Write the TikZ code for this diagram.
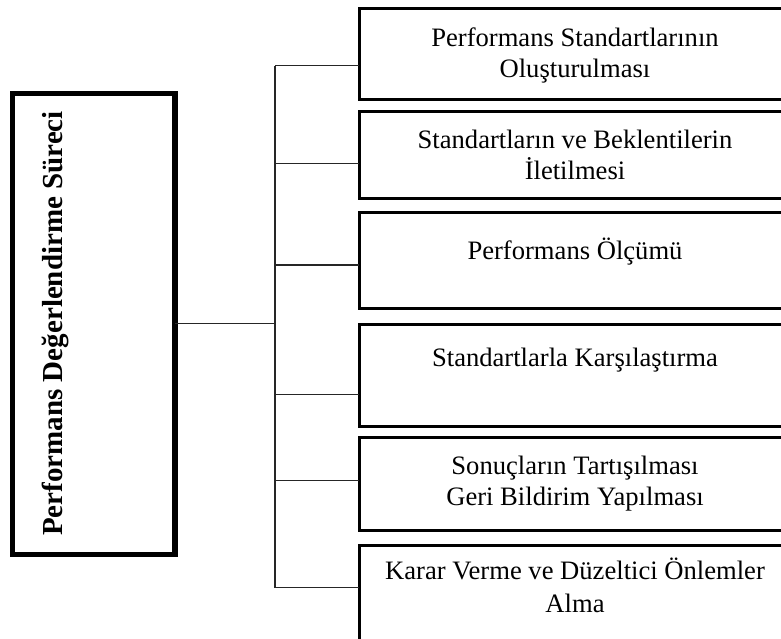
\documentclass[tikz,border=0pt]{standalone}
\usepackage{fontspec}
\setmainfont{Liberation Serif}
\begin{document}
\begin{tikzpicture}[x=1pt,y=-1pt,
  stagebox/.style={draw=black, line width=3pt, fill=white, inner sep=0pt,
    outer sep=0pt, anchor=north west, minimum width=460pt},
  mainbox/.style={draw=black, line width=5.3pt, fill=white, inner sep=0pt,
    outer sep=0pt, anchor=north west, minimum width=162.5pt, minimum height=461pt},
  steptext/.style={anchor=base, inner sep=0pt, font=\fontsize{26.6}{31}\selectfont},
  titletext/.style={anchor=base, inner sep=0pt, rotate=90,
    font=\fontsize{29}{33}\selectfont\bfseries},
  link/.style={draw=black!85, line width=1.3pt}
]
\useasboundingbox (0,0) rectangle (781,639);
\clip (0,0) rectangle (781,639);

% junction points on the vertical trunk
\coordinate (j1) at (275,65.7);
\coordinate (j2) at (275,163.7);
\coordinate (j3) at (275,265);
\coordinate (j4) at (275,394.3);
\coordinate (j5) at (275,480.3);
\coordinate (j6) at (275,587.7);

% main box
\node[mainbox] (main) at (12.5,93.3) {};

% stage boxes
\node[stagebox, minimum height=90.9pt]  (b1) at (359.2,8.8) {};
\node[stagebox, minimum height=86.7pt]  (b2) at (359.2,111.3) {};
\node[stagebox, minimum height=95.2pt]  (b3) at (359.2,212.8) {};
\node[stagebox, minimum height=101.6pt] (b4) at (359.2,324.7) {};
\node[stagebox, minimum height=93pt]    (b5) at (359.2,437.7) {};
\node[stagebox, minimum height=120pt]   (b6) at (359.2,545.3) {};

% connectors
\draw[link] (main.east) -- (main.east -| j1);
\draw[link] (j1) -- (j6);
\draw[link] (j1) -- (j1 -| b1.west);
\draw[link] (j2) -- (j2 -| b2.west);
\draw[link] (j3) -- (j3 -| b3.west);
\draw[link] (j4) -- (j4 -| b4.west);
\draw[link] (j5) -- (j5 -| b5.west);
\draw[link] (j6) -- (j6 -| b6.west);

% title
\node[titletext] (title) at (62,323.5) {Performans Değerlendirme Süreci};

% stage texts
\node[steptext] (t1a) at (575,46.7)  {Performans Standartlarının};
\node[steptext] (t1b) at (575,77.3)  {Oluşturulması};
\node[steptext] (t2a) at (575,148.3) {Standartların ve Beklentilerin};
\node[steptext] (t2b) at (575,179.3) {İletilmesi};
\node[steptext] (t3a) at (575,259.3) {Performans Ölçümü};
\node[steptext] (t4a) at (575,366.7) {Standartlarla Karşılaştırma};
\node[steptext] (t5a) at (575,474)   {Sonuçların Tartışılması};
\node[steptext] (t5b) at (575,505)   {Geri Bildirim Yapılması};
\node[steptext] (t6a) at (575,579.3) {Karar Verme ve Düzeltici Önlemler};
\node[steptext] (t6b) at (575,612.7) {Alma};
\end{tikzpicture}
\end{document}
